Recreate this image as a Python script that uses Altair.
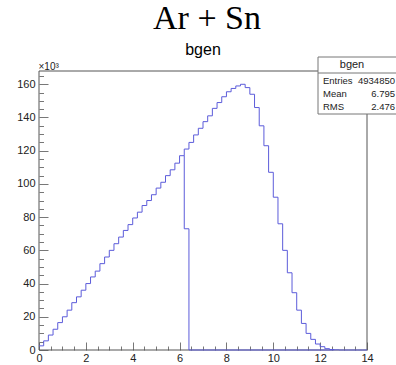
import altair as alt
import pandas as pd

# ---------------- data (values in units of 10^3) ----------------
bin_width = 0.2
counts = [
    2.5, 5.5, 9.0, 12.5, 16.5, 20.0, 24.0, 28.5, 32.0, 36.0,
    40.0, 44.0, 47.5, 52.0, 56.0, 60.0, 64.0, 68.0, 72.0, 75.5,
    79.5, 83.0, 87.0, 90.0, 93.5, 97.5, 101.0, 105.0, 108.5, 112.5,
    117.0, 121.0, 125.0, 129.5, 133.5, 137.5, 141.0, 145.5, 149.0, 152.5,
    155.5, 157.5, 159.0, 160.0, 158.0, 154.0, 146.0, 135.0, 123.0, 107.0,
    92.0, 76.0, 60.0, 46.5, 34.5, 24.0, 16.0, 10.0, 6.4, 3.6,
    2.0, 0.8, 0.3, 0.1, 0.0, 0.0, 0.0, 0.0, 0.0, 0.0,
]
overlay_x = [6.2, 6.2, 6.4, 6.4, 12.6]
overlay_y = [117.0, 73.0, 73.0, 0.0, 0.0]

x_ticks_major = [0, 2, 4, 6, 8, 10, 12, 14]
y_ticks_major = [0, 20, 40, 60, 80, 100, 120, 140, 160]
x_ticks_all = [i * 0.5 for i in range(29)]
y_ticks_all = [i * 5 for i in range(34)]

title_text = "Ar + Sn"
hist_name = "bgen"
stats_labels = ["Entries", "Mean", "RMS"]
stats_values = ["4934850", "6.795", "2.476"]

# ---------------- layout ----------------
W, H = 328, 279
LINE = "#5c5cda"
FRAME = "#555555"
TXT = "#222222"
SANS = "Liberation Sans"

edges = [round(i * bin_width, 1) for i in range(len(counts) + 1)]
hist_df = pd.DataFrame({"x": edges, "y": counts + [counts[-1]], "i": range(len(edges))})
over_df = pd.DataFrame({"x": overlay_x, "y": overlay_y, "i": range(len(overlay_x))})

xscale = alt.Scale(domain=[0, 14], nice=False, zero=False)
yscale = alt.Scale(domain=[0, 168], nice=False, zero=False)

frame = alt.Chart(pd.DataFrame({"a": [0]})).mark_rect(
    fill=None, stroke=FRAME, strokeWidth=1
).encode(x=alt.value(0), x2=alt.value("width"), y=alt.value(0), y2=alt.value("height"))

main = alt.Chart(hist_df).mark_line(
    interpolate="step-after", color=LINE, strokeWidth=1
).encode(
    x=alt.X("x:Q", scale=xscale, axis=alt.Axis(
        orient="bottom", values=x_ticks_major, ticks=False, domain=False, grid=False,
        title=None, labelPadding=2, labelFont=SANS, labelFontSize=11, labelColor=TXT,
        labelFlush=False, labelOverlap=False, format="d")),
    y=alt.Y("y:Q", scale=yscale, axis=alt.Axis(
        orient="left", values=y_ticks_major, ticks=False, domain=False, grid=False,
        title="×10³", titleAngle=0, titleX=-1, titleY=-2, titleAlign="left",
        titleBaseline="alphabetic", titleFont=SANS, titleFontSize=10,
        titleFontWeight="normal", titleColor=TXT,
        labelPadding=4, labelFont=SANS, labelFontSize=11, labelColor=TXT,
        labelFlush=False, labelOverlap=False, format="d")),
    order="i:Q",
)

over = alt.Chart(over_df).mark_line(color=LINE, strokeWidth=1).encode(
    x=alt.X("x:Q", scale=xscale, axis=alt.Axis(
        orient="top", offset=-H, values=x_ticks_all, labels=False, domain=False,
        grid=False, title=None, tickColor="#777777", tickWidth=1,
        tickSize={"condition": {"test": "datum.value % 2 === 0", "value": 8}, "value": 4})),
    y=alt.Y("y:Q", scale=yscale, axis=alt.Axis(
        orient="right", offset=-W, values=y_ticks_all, labels=False, domain=False,
        grid=False, title=None, tickColor="#777777", tickWidth=1,
        tickSize={"condition": {"test": "datum.value % 20 === 0", "value": 9}, "value": 4.5})),
    order="i:Q",
)

title = alt.Chart(pd.DataFrame({"t": [title_text]})).mark_text(
    font="Liberation Serif", fontSize=34, color="#000000", align="center", baseline="alphabetic"
).encode(text="t:N", x=alt.value(168), y=alt.value(-42))

subtitle = alt.Chart(pd.DataFrame({"t": [hist_name]})).mark_text(
    font=SANS, fontSize=16, color="#000000", align="center", baseline="alphabetic"
).encode(text="t:N", x=alt.value(164), y=alt.value(-16))

box = alt.Chart(pd.DataFrame({"a": [0]})).mark_rect(
    fill="white", stroke="#777777", strokeWidth=1
).encode(x=alt.value(279), x2=alt.value(362), y=alt.value(-14), y2=alt.value(43))

sep = alt.Chart(pd.DataFrame({"a": [0]})).mark_rule(color="#777777", strokeWidth=1).encode(
    x=alt.value(279), x2=alt.value(362), y=alt.value(2))

box_title = alt.Chart(pd.DataFrame({"t": [hist_name]})).mark_text(
    font=SANS, fontSize=11, color=TXT, align="center", baseline="alphabetic"
).encode(text="t:N", x=alt.value(313), y=alt.value(-3))

stat_layers = []
for k, (lab, val) in enumerate(zip(stats_labels, stats_values)):
    yy = 13 + 13 * k
    stat_layers.append(alt.Chart(pd.DataFrame({"t": [lab]})).mark_text(
        font=SANS, fontSize=9.5, color=TXT, align="left", baseline="alphabetic"
    ).encode(text="t:N", x=alt.value(284), y=alt.value(yy)))
    stat_layers.append(alt.Chart(pd.DataFrame({"t": [val]})).mark_text(
        font=SANS, fontSize=9.5, color=TXT, align="right", baseline="alphabetic"
    ).encode(text="t:N", x=alt.value(356), y=alt.value(yy)))

chart = alt.layer(
    frame, main, over, title, subtitle, box, sep, box_title, *stat_layers
).resolve_axis(x="independent", y="independent").properties(
    width=W, height=H,
    autosize=alt.AutoSizeParams(type="none"),
    padding={"left": 39, "top": 71, "right": 29, "bottom": 15},
    background="white",
).configure_view(stroke=None)

chart.save("out.html", embed_options={"renderer": "svg", "actions": False})
